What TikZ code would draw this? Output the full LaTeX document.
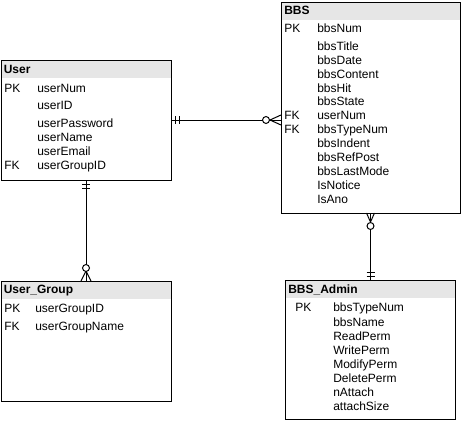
\documentclass[tikz,border=0pt]{standalone}
\usepackage{fontspec}
\setmainfont{Liberation Sans}
\usetikzlibrary{calc}
\definecolor{hdrgray}{HTML}{E6E6E6}
\begin{document}
\begin{tikzpicture}[x=0.75pt,y=-0.75pt,
  ent/.style={draw, line width=0.75pt, inner sep=0pt, outer sep=0pt,
    path picture={\fill[hdrgray] (path picture bounding box.north west) rectangle ([yshift=-13.5pt]path picture bounding box.north east);}},
  fld/.style={anchor=west, inner sep=0pt, font=\fontsize{9pt}{10pt}\selectfont, text height=9pt, text depth=2pt},
  hdr/.style={fld, font=\fontsize{9pt}{10pt}\selectfont\bfseries},
  conn/.style={line width=0.75pt}]
\useasboundingbox (0,0) rectangle (461,421);

% ---------- User ----------
\node[ent, minimum width=170*0.75pt, minimum height=120*0.75pt] (user) at (86,120) {};
\node[hdr] (uh) at (3.5,69) {User};
\node[fld] (uk1) at (4,88) {PK};
\node[fld] (uf1) at (37,88) {userNum};
\node[fld] (uf2) at (37,105) {userID};
\node[fld] (uf3) at (37,123) {userPassword};
\node[fld] (uf4) at (37,137) {userName};
\node[fld] (uf5) at (37,151) {userEmail};
\node[fld] (uk2) at (4,165) {FK};
\node[fld] (uf6) at (37,165) {userGroupID};

% ---------- BBS ----------
\node[ent, minimum width=179*0.75pt, minimum height=211*0.75pt] (bbs) at (370.5,107.5) {};
\node[hdr] (bh) at (284,10) {BBS};
\node[fld] (bk1) at (284,28) {PK};
\node[fld] (bf1) at (317,28) {bbsNum};
\node[fld] (bf2) at (317,46) {bbsTitle};
\node[fld] (bf3) at (317,60) {bbsDate};
\node[fld] (bf4) at (317,74) {bbsContent};
\node[fld] (bf5) at (317,88) {bbsHit};
\node[fld] (bf6) at (317,101) {bbsState};
\node[fld] (bk2) at (284,115) {FK};
\node[fld] (bf7) at (317,115) {userNum};
\node[fld] (bk3) at (284,129) {FK};
\node[fld] (bf8) at (317,129) {bbsTypeNum};
\node[fld] (bf9) at (317,143) {bbsIndent};
\node[fld] (bf10) at (317,157) {bbsRefPost};
\node[fld] (bf11) at (317,171) {bbsLastMode};
\node[fld] (bf12) at (317,185) {IsNotice};
\node[fld] (bf13) at (317,199) {IsAno};

% ---------- User_Group ----------
\node[ent, minimum width=170*0.75pt, minimum height=120*0.75pt] (ug) at (86,341) {};
\node[hdr] (gh) at (3.5,289) {User\_Group};
\node[fld] (gk1) at (4,308) {PK};
\node[fld] (gf1) at (35,308) {userGroupID};
\node[fld] (gk2) at (4,326) {FK};
\node[fld] (gf2) at (35,326) {userGroupName};

% ---------- BBS_Admin ----------
\node[ent, minimum width=170*0.75pt, minimum height=139*0.75pt] (adm) at (370,349.5) {};
\node[hdr] (ah) at (288,289) {BBS\_Admin};
\node[fld] (ak1) at (295,307) {PK};
\node[fld] (af1) at (333,307) {bbsTypeNum};
\node[fld] (af2) at (333,322) {bbsName};
\node[fld] (af3) at (333,336) {ReadPerm};
\node[fld] (af4) at (333,350) {WritePerm};
\node[fld] (af5) at (333,364) {ModifyPerm};
\node[fld] (af6) at (333,378) {DeletePerm};
\node[fld] (af7) at (333,392) {nAttach};
\node[fld] (af8) at (333,406) {attachSize};

% ---------- User -> BBS ----------
\coordinate (e1a) at (user.east);
\coordinate (e1b) at (user.east -| bbs.west);
\draw[conn] (e1a) -- (e1b);
\draw[conn] ($(e1a)+(4,-4)$) -- ($(e1a)+(4,4)$);
\draw[conn] ($(e1a)+(8,-4)$) -- ($(e1a)+(8,4)$);
\draw[conn] ($(e1b)+(0,-5)$) -- ($(e1b)+(-11,0)$) -- ($(e1b)+(0,5)$);
\draw[conn, fill=white] ($(e1b)+(-15,0)$) circle[radius=2.6pt];

% ---------- User -> User_Group ----------
\coordinate (e2a) at (user.south);
\coordinate (e2b) at (user.south |- ug.north);
\draw[conn] (e2a) -- (e2b);
\draw[conn] ($(e2a)+(-4,4)$) -- ($(e2a)+(4,4)$);
\draw[conn] ($(e2a)+(-4,8)$) -- ($(e2a)+(4,8)$);
\draw[conn] ($(e2b)+(-5,0)$) -- ($(e2b)+(0,-10)$) -- ($(e2b)+(5,0)$);
\draw[conn, fill=white] ($(e2b)+(0,-13)$) circle[radius=2.6pt];

% ---------- BBS -> BBS_Admin ----------
\coordinate (e3a) at (bbs.south);
\coordinate (e3b) at (bbs.south |- adm.north);
\draw[conn] (e3a) -- (e3b);
\draw[conn] ($(e3a)+(-4,0)$) -- ($(e3a)+(0,9)$) -- ($(e3a)+(4,0)$);
\draw[conn, fill=white] ($(e3a)+(0,13)$) circle[radius=2.6pt];
\draw[conn] ($(e3b)+(-4,-8)$) -- ($(e3b)+(4,-8)$);
\draw[conn] ($(e3b)+(-4,-4)$) -- ($(e3b)+(4,-4)$);
\end{tikzpicture}
\end{document}
